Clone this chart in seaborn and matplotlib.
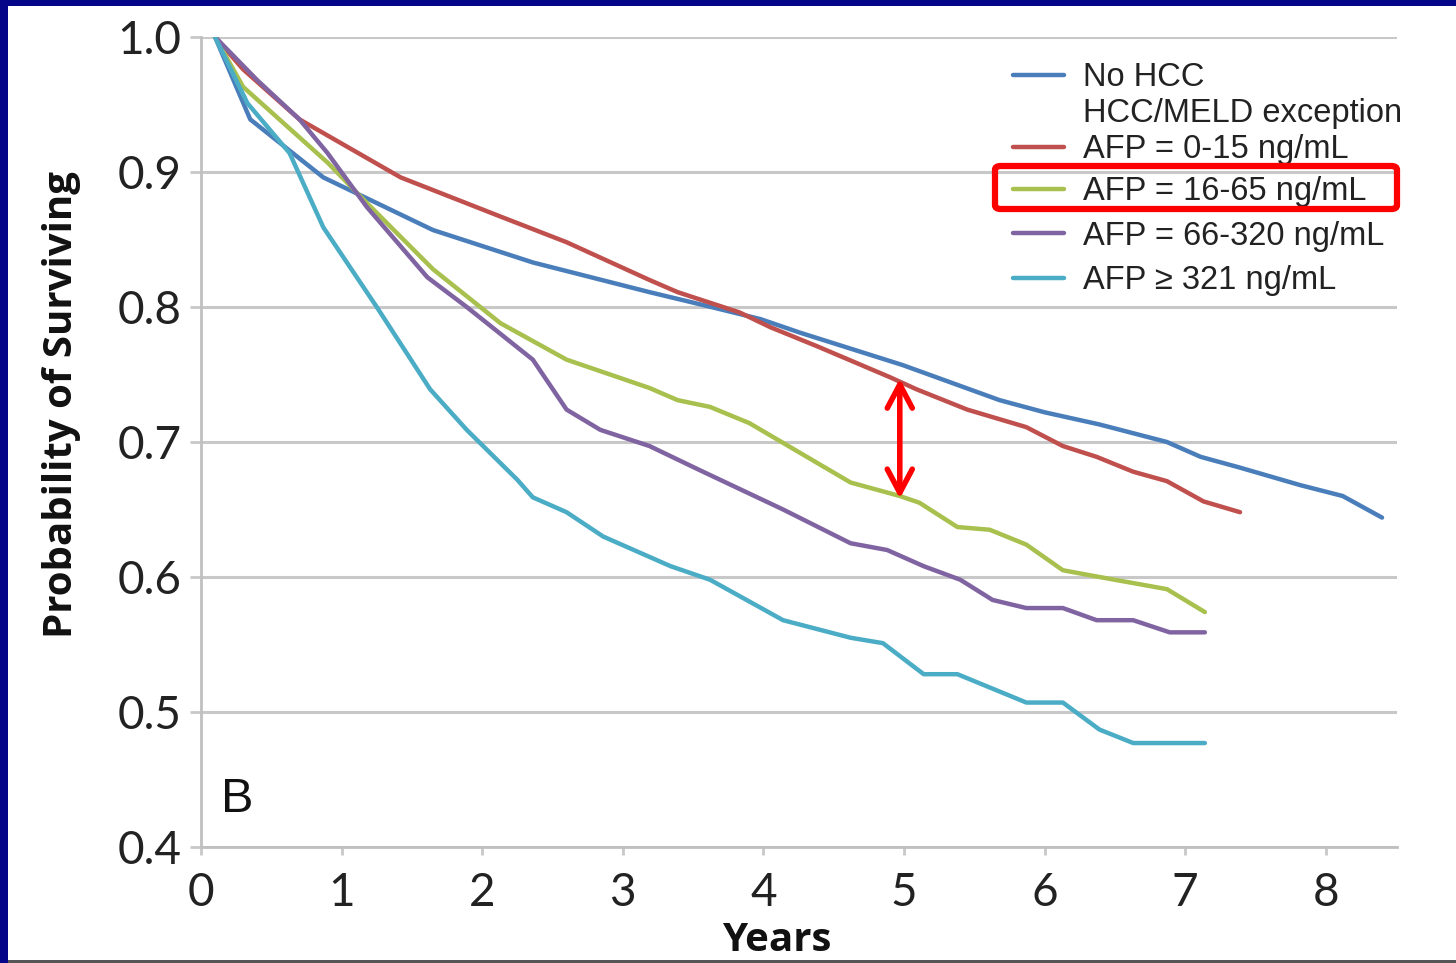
import numpy as np
import pandas as pd
import matplotlib
matplotlib.use("Agg")
import matplotlib.pyplot as plt
from matplotlib.lines import Line2D
from matplotlib.patches import Rectangle, FancyBboxPatch
import seaborn as sns

# ---------------- data ----------------
series_names = ["No HCC", "AFP = 0-15 ng/mL", "AFP = 16-65 ng/mL",
                "AFP = 66-320 ng/mL", "AFP \u2265 321 ng/mL"]

no_hcc_x = [0.10, 0.35, 0.87, 1.65, 2.36, 3.19, 3.55, 3.98, 4.26, 4.99, 5.68,
            6.00, 6.39, 6.87, 7.11, 7.39, 7.82, 8.12, 8.40]
no_hcc_y = [1.000, 0.939, 0.896, 0.857, 0.833, 0.811, 0.802, 0.791, 0.781, 0.757, 0.731,
            0.722, 0.713, 0.700, 0.689, 0.681, 0.668, 0.660, 0.644]

afp_0_15_x = [0.10, 0.30, 0.70, 1.42, 2.13, 2.60, 3.19, 3.39, 3.83, 4.05, 4.38, 4.90,
              5.09, 5.45, 5.87, 6.13, 6.37, 6.63, 6.87, 7.13, 7.39]
afp_0_15_y = [1.000, 0.976, 0.939, 0.896, 0.867, 0.848, 0.820, 0.811, 0.796, 0.785, 0.771, 0.748,
              0.739, 0.724, 0.711, 0.697, 0.689, 0.678, 0.671, 0.656, 0.648]

afp_16_65_x = [0.10, 0.30, 0.90, 1.18, 1.65, 2.13, 2.60, 3.19, 3.39, 3.62, 3.90, 4.26,
               4.62, 4.97, 5.11, 5.38, 5.61, 5.87, 6.13, 6.39, 6.87, 7.14]
afp_16_65_y = [1.000, 0.963, 0.907, 0.877, 0.828, 0.788, 0.761, 0.740, 0.731, 0.726, 0.714, 0.692,
               0.670, 0.660, 0.655, 0.637, 0.635, 0.624, 0.605, 0.600, 0.591, 0.574]

afp_66_320_x = [0.10, 0.40, 0.70, 0.90, 1.18, 1.61, 1.89, 2.36, 2.60, 2.84, 3.19, 3.55,
                4.14, 4.62, 4.88, 5.14, 5.40, 5.63, 5.87, 6.13, 6.37, 6.63, 6.89, 7.14]
afp_66_320_y = [1.000, 0.968, 0.939, 0.914, 0.874, 0.822, 0.800, 0.761, 0.724, 0.709, 0.697, 0.679,
                0.650, 0.625, 0.620, 0.608, 0.598, 0.583, 0.577, 0.577, 0.568, 0.568, 0.559, 0.559]

afp_321_x = [0.10, 0.33, 0.63, 0.87, 1.25, 1.63, 1.89, 2.25, 2.36, 2.60, 2.86, 3.34, 3.62,
             4.14, 4.62, 4.85, 5.14, 5.38, 5.87, 6.13, 6.39, 6.63, 7.14]
afp_321_y = [1.000, 0.951, 0.914, 0.859, 0.800, 0.739, 0.709, 0.672, 0.659, 0.648, 0.630, 0.608, 0.598,
             0.568, 0.555, 0.551, 0.528, 0.528, 0.507, 0.507, 0.487, 0.477, 0.477]

x_ticks = [0, 1, 2, 3, 4, 5, 6, 7, 8]
y_ticks = [0.4, 0.5, 0.6, 0.7, 0.8, 0.9, 1.0]
y_tick_labels = ["0.4", "0.5", "0.6", "0.7", "0.8", "0.9", "1.0"]

colors = ["#4a7ebb", "#c0504d", "#a8c04e", "#8064a2", "#4bacc6"]

# ---------------- build long table ----------------
xs = [no_hcc_x, afp_0_15_x, afp_16_65_x, afp_66_320_x, afp_321_x]
ys = [no_hcc_y, afp_0_15_y, afp_16_65_y, afp_66_320_y, afp_321_y]
frames = []
for name, x, y in zip(series_names, xs, ys):
    frames.append(pd.DataFrame({"Years": x, "Survival": y, "Group": name}))
df = pd.concat(frames, ignore_index=True)

# ---------------- figure ----------------
sns.set_style("white")
W, H = 1456, 963
fig = plt.figure(figsize=(W / 100, H / 100), dpi=100)
fig.patch.set_facecolor("#05058a")
# white slide area (behind the axes)
fig.patches.append(Rectangle((8 / W, 3 / H), 1 - 8 / W, (H - 9) / H,
                             transform=fig.transFigure, facecolor="white",
                             edgecolor="none", zorder=-2))
fig.patches.append(Rectangle((8 / W, 0), 1 - 8 / W, 3 / H,
                             transform=fig.transFigure, facecolor="#555555",
                             edgecolor="none", zorder=-2))

AX_L, AX_R, AX_T, AX_B = 201, 1397, 37, 847
ax = fig.add_axes([AX_L / W, (H - AX_B) / H, (AX_R - AX_L) / W, (AX_B - AX_T) / H])
ax.set_facecolor("none")

sns.lineplot(data=df, x="Years", y="Survival", hue="Group", hue_order=series_names,
             palette=colors, estimator=None, sort=False, linewidth=3.2, ax=ax,
             legend=False, zorder=3)

ax.set_xlim(0, (AX_R - AX_L) / 140.6)
ax.set_ylim(0.4, 1.0)
ax.set_xticks(x_ticks)
ax.set_yticks(y_ticks)
ax.set_yticklabels(y_tick_labels)

tick_font = "Lato"
for lab in ax.get_xticklabels() + ax.get_yticklabels():
    lab.set_fontfamily(tick_font)
    lab.set_fontsize(33)
    lab.set_color("#222222")

ax.yaxis.grid(True, color="#c8c8c8", linewidth=2.2, zorder=0)
ax.xaxis.grid(False)
for s in ["top", "right"]:
    ax.spines[s].set_visible(False)
for s in ["left", "bottom"]:
    ax.spines[s].set_color("#c0c0c0")
    ax.spines[s].set_linewidth(2)
ax.tick_params(axis="y", which="major", length=8, width=2, color="#c8c8c8", pad=6, left=True)
ax.tick_params(axis="x", which="major", length=6, width=2, color="#c8c8c8", pad=12, bottom=True)

ax.set_ylabel("Probability of Surviving", fontsize=29, fontweight="bold",
              family="Open Sans", color="#111111")
ax.yaxis.set_label_coords((62 - AX_L) / (AX_R - AX_L), (AX_B - 405) / (AX_B - AX_T))
ax.yaxis.label.set_verticalalignment("center")
ax.set_xlabel("Years", fontsize=29, fontweight="bold", family="Open Sans", color="#111111")
ax.xaxis.set_label_coords((777 - AX_L) / (AX_R - AX_L), -(940 - AX_B) / (AX_B - AX_T))
ax.xaxis.label.set_verticalalignment("center")

# panel letter
ax.text(0.26, 0.435, "B", fontsize=35, family="Liberation Sans", color="#111111",
        ha="center", va="center")

# legend (two stacked blocks to follow the original's uneven row spacing)
def ax_frac(px, py):
    return ((px - AX_L) / (AX_R - AX_L), (AX_B - py) / (AX_B - AX_T))

leg_kw = dict(loc="upper left", frameon=False,
              prop={"family": "Liberation Sans", "size": 23.5},
              handlelength=1.55, handletextpad=0.6, borderpad=0)
h1 = [Line2D([], [], color=colors[0], lw=3.2),
      Line2D([], [], color="none", lw=0),
      Line2D([], [], color=colors[1], lw=3.2)]
l1 = [series_names[0], "HCC/MELD exception", series_names[1]]
leg1 = ax.legend(h1, l1, bbox_to_anchor=ax_frac(997, 46), labelspacing=0.15, **leg_kw)
ax.add_artist(leg1)
h2 = [Line2D([], [], color=c, lw=3.2) for c in colors[2:]]
leg2 = ax.legend(h2, series_names[2:], bbox_to_anchor=ax_frac(997, 160),
                 labelspacing=0.41, **leg_kw)
for lg in (leg1, leg2):
    for t in lg.get_texts():
        t.set_color("#222222")

# red highlight box around the 16-65 entry
fig.patches.append(FancyBboxPatch((995 / W, (H - 209) / H), (1397 - 995) / W, 43 / H,
                                  boxstyle="round,pad=0,rounding_size=0.004",
                                  transform=fig.transFigure, facecolor="none",
                                  edgecolor="#ff0000", linewidth=4.5, zorder=5))

# red double arrow at year 5
ax.annotate("", xy=(4.97, 0.747), xytext=(4.97, 0.658),
            arrowprops=dict(arrowstyle="<->,head_length=0.85,head_width=0.45",
                            mutation_scale=20, color="#ff0000", lw=4,
                            shrinkA=0, shrinkB=0, capstyle="round"), zorder=6)

fig.savefig("out.png", dpi=100, facecolor=fig.get_facecolor())
